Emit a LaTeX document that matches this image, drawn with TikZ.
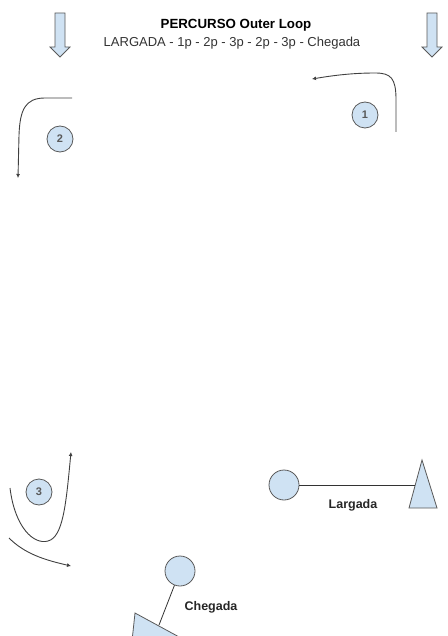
\documentclass[tikz,border=0pt]{standalone}
\usepackage{fontspec}
\setmainfont{Liberation Sans}
\usepackage{tikz}
\usetikzlibrary{arrows.meta}
\definecolor{paleblu}{HTML}{CFE2F3}
\definecolor{edge}{HTML}{595959}
\tikzset{
  mark circ/.style={circle,draw=edge,fill=paleblu,line width=0.8pt,inner sep=0pt,minimum size=26pt,font=\bfseries\fontsize{11}{12}\selectfont,text=black!65},
  end circ/.style={circle,draw=edge,fill=paleblu,line width=0.8pt,inner sep=0pt,minimum size=30pt},
  path line/.style={draw=black!75,line width=0.9pt,-{Latex[length=4pt,width=4pt]}},
  lbl/.style={font=\bfseries\fontsize{12.5}{14}\selectfont,text=black!85}
}
\begin{document}
\begin{tikzpicture}[x=1pt,y=-1pt]
  \useasboundingbox (0,0) rectangle (447,636);
  % block arrows at the top corners
  \foreach \cx in {60,432}{\draw[edge,fill=paleblu,line width=0.8pt]
    (\cx-5,13) -- (\cx+5,13) -- (\cx+5,47) -- (\cx+10,47) -- (\cx,57) -- (\cx-10,47) -- (\cx-5,47) -- cycle;}
  \node[font=\bfseries\fontsize{13.3}{15}\selectfont] (ttl) at (236,25) {PERCURSO Outer Loop};
  \node[font=\fontsize{13}{15}\selectfont,text=black!80] (sub) at (232,43) {LARGADA - 1p - 2p - 3p - 2p - 3p - Chegada};
  % turns
  \node[mark circ] (n1) at (365,115) {1};
  \node[mark circ] (n2) at (60,139) {2};
  \node[mark circ] (n3) at (39,492) {3};
  \draw[path line] (396,132) -- (396,100) .. controls (396,78) and (391,73) .. (375,73)
    .. controls (350,73) and (330,76) .. (312,79);
  \draw[path line] (72,98) -- (45,98) .. controls (25,98) and (20,110) .. (19,135) -- (18,178);
  \draw[path line] (10,488) .. controls (15,528) and (34,545) .. (48,541)
    .. controls (63,537) and (66,505) .. (71,452);
  \draw[path line] (9,538) .. controls (25,554) and (45,560) .. (71,566);
  % start
  \node[end circ] (lgc) at (284,485) {};
  \draw[edge,fill=paleblu,line width=0.8pt] (422,460) -- (437,508) -- (409,508) -- cycle;
  \coordinate (lgt) at (415,485);
  \draw[black!80,line width=0.8pt] (lgc) -- (lgt);
  \node[lbl] (lgl) at (353,505) {Largada};
  % finish
  \node[end circ] (chc) at (180,571) {};
  \draw[edge,fill=paleblu,line width=0.8pt] (135,613) -- (181,638) -- (132,641) -- cycle;
  \coordinate (cht) at (159,625);
  \draw[black!80,line width=0.8pt] (chc) -- (cht);
  \node[lbl] (chl) at (211,607) {Chegada};
\end{tikzpicture}
\end{document}
